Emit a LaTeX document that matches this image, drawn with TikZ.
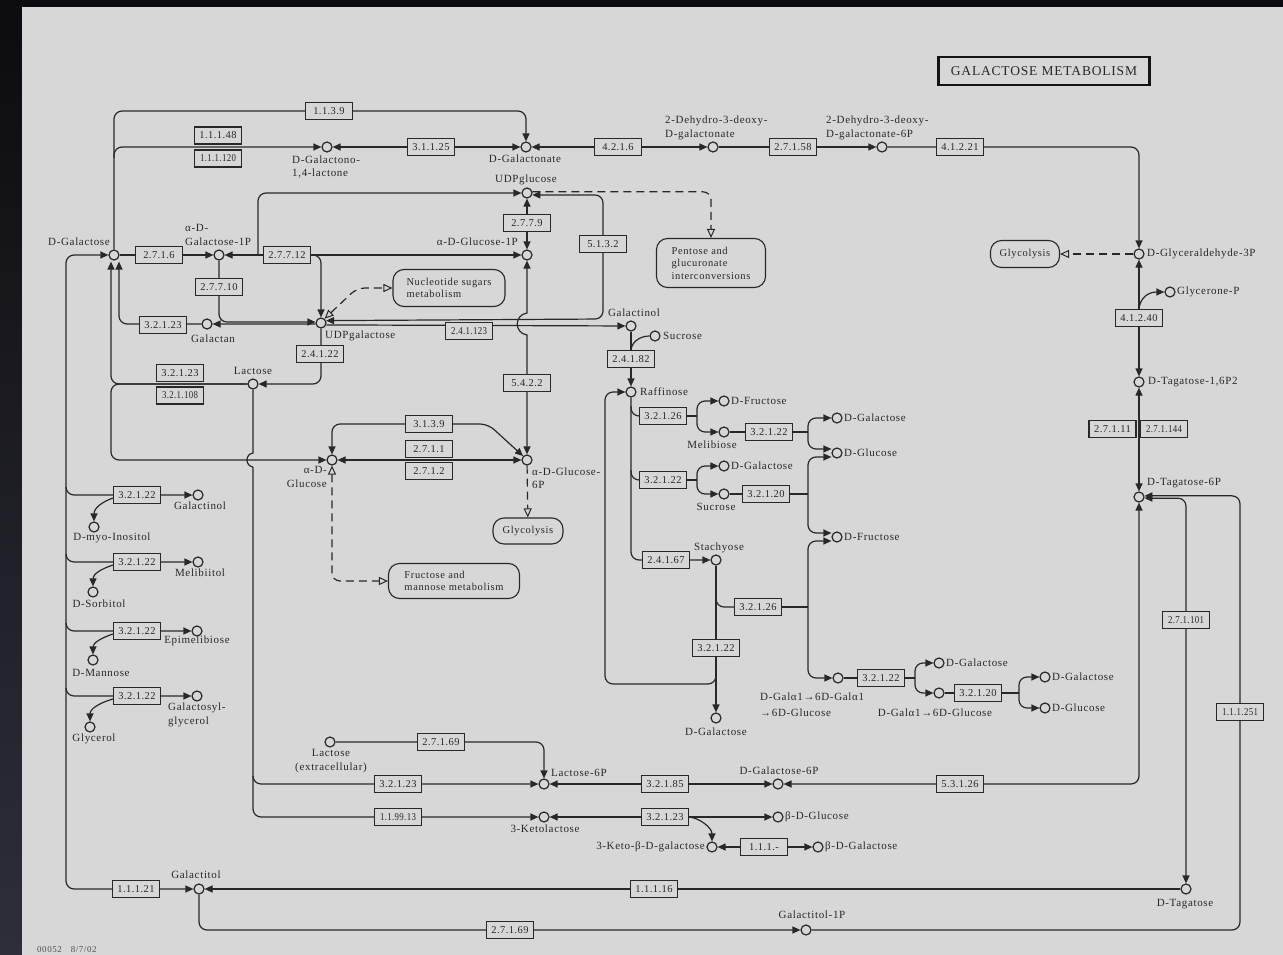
\documentclass[tikz,border=0pt]{standalone}
\usepackage{fontspec}
\usepackage{graphicx}
\setmainfont{Liberation Serif}
\newfontfamily\lblfont{Liberation Serif}[LetterSpace=6]
\newfontfamily\ecfont{Liberation Serif}[LetterSpace=4]
\usetikzlibrary{arrows.meta,calc}
\pgfdeclarelayer{panel}
\pgfdeclarelayer{wires}
\pgfsetlayers{panel,wires,main}
\definecolor{paper}{RGB}{215,215,215}
\definecolor{ink}{RGB}{40,40,40}
\definecolor{frameA}{RGB}{12,12,14}
\definecolor{frameB}{RGB}{46,46,58}
\newcommand{\nar}[1]{\scalebox{0.84}[1]{#1}}
\tikzset{
  cpd/.style={circle, draw=ink, line width=1.2pt, fill=paper, minimum size=10pt, inner sep=0pt},
  lbl/.style={font=\lblfont\fontsize{11}{13.5}\selectfont, text=ink, inner sep=0pt},
  ec/.style={draw=ink, line width=1.2pt, fill=paper, minimum width=47pt, minimum height=17pt,
             inner sep=1pt, font=\ecfont\fontsize{10.5}{11}\selectfont, text=ink},
  pmap/.style={draw=ink, line width=1.1pt, fill=paper, rounded corners=11pt, align=left,
               font=\lblfont\fontsize{10.5}{12.5}\selectfont, text=ink, inner sep=0pt},
  wire/.style={draw=ink, line width=1.2pt, rounded corners=8pt},
  link/.style={draw=ink, line width=1.2pt, dash pattern=on 8pt off 5pt, rounded corners=8pt},
  hollow/.tip={Triangle[length=9pt,width=8pt,fill=paper,line width=1pt]},
}
\begin{document}
\begin{tikzpicture}[x=1pt, y=-1pt, >={Triangle[length=8pt,width=7pt]}]
\useasboundingbox (0,0) rectangle (1283,955);

% ---------- compounds ----------
\node[cpd] (galA) at (114,255) {};
\node[cpd] (gal1p) at (219,255) {};
\node[cpd] (lacton) at (327,147) {};
\node[cpd] (galnate) at (526,147) {};
\node[cpd] (dhdg) at (713,147) {};
\node[cpd] (dhdgp) at (882,147) {};
\node[cpd] (gap) at (1139,254) {};
\node[cpd] (glyp) at (1170,292) {};
\node[cpd] (tagbp) at (1139,382) {};
\node[cpd] (tagp) at (1139,497) {};
\node[cpd] (tag) at (1186,889) {};
\node[cpd] (galtol) at (199,889) {};
\node[cpd] (galtolp) at (806,930) {};
\node[cpd] (udpglc) at (527,193) {};
\node[cpd] (glc1p) at (527,255) {};
\node[cpd] (udpgal) at (321,323) {};
\node[cpd] (galactan) at (207,324) {};
\node[cpd] (lactose) at (253,384) {};
\node[cpd] (galinol) at (631,326) {};
\node[cpd] (sucA) at (655,336) {};
\node[cpd] (raff) at (631,392) {};
\node[cpd] (glc6p) at (527,460) {};
\node[cpd] (glc) at (332,460) {};
\node[cpd] (fruA) at (724,401) {};
\node[cpd] (melib) at (724,432) {};
\node[cpd] (galB) at (837,418) {};
\node[cpd] (glcB) at (837,453) {};
\node[cpd] (galC) at (724,466) {};
\node[cpd] (sucB) at (724,494) {};
\node[cpd] (fruB) at (837,537) {};
\node[cpd] (stach) at (716,560) {};
\node[cpd] (galD) at (716,718) {};
\node[cpd] (mtri) at (838,678) {};
\node[cpd] (galE) at (939,663) {};
\node[cpd] (mbio) at (939,693) {};
\node[cpd] (galF) at (1045,677) {};
\node[cpd] (glcF) at (1045,708) {};
\node[cpd] (galinolL) at (198,495) {};
\node[cpd] (inos) at (94,527) {};
\node[cpd] (melibitol) at (198,562) {};
\node[cpd] (sorb) at (93,592) {};
\node[cpd] (epimel) at (197,631) {};
\node[cpd] (mannose) at (93,660) {};
\node[cpd] (galgly) at (197,696) {};
\node[cpd] (glycerol) at (90,727) {};
\node[cpd] (lacex) at (330,742) {};
\node[cpd] (lac6p) at (544,784) {};
\node[cpd] (gal6p) at (778,784) {};
\node[cpd] (ketolac) at (544,817) {};
\node[cpd] (bglc) at (778,817) {};
\node[cpd] (ketogal) at (712,847) {};
\node[cpd] (bgal) at (818,847) {};

% ---------- compound names ----------
\node[lbl] (t-galA) at (79,242) {D-Galactose};
\node[lbl, anchor=west, align=left] (t-gal1p) at (185,235) {α-D-\\Galactose-1P};
\node[lbl, anchor=west, align=left] (t-lacton) at (292,167) {D-Galactono-\\1,4-lactone};
\node[lbl] (t-galnate) at (525,159) {D-Galactonate};
\node[lbl, anchor=west, align=left] (t-dhdg) at (665,128) {2-Dehydro-3-deoxy-\\D-galactonate};
\node[lbl, anchor=west, align=left] (t-dhdgp) at (826,128) {2-Dehydro-3-deoxy-\\D-galactonate-6P};
\node[lbl, anchor=west] (t-gap) at (1147,254) {D-Glyceraldehyde-3P};
\node[lbl, anchor=west] (t-glyp) at (1177,292) {Glycerone-P};
\node[lbl, anchor=west] (t-tagbp) at (1148,382) {D-Tagatose-1,6P2};
\node[lbl, anchor=west] (t-tagp) at (1147,483) {D-Tagatose-6P};
\node[lbl] (t-tag) at (1185,904) {D-Tagatose};
\node[lbl] (t-galtol) at (196,875) {Galactitol};
\node[lbl] (t-galtolp) at (812,915) {Galactitol-1P};
\node[lbl] (t-udpglc) at (526,180) {UDPglucose};
\node[lbl, anchor=east] (t-glc1p) at (518,242) {α-D-Glucose-1P};
\node[lbl, anchor=west] (t-udpgal) at (325,336) {UDPgalactose};
\node[lbl] (t-galactan) at (213,339) {Galactan};
\node[lbl] (t-lactose) at (253,371) {Lactose};
\node[lbl] (t-galinol) at (634,313) {Galactinol};
\node[lbl, anchor=west] (t-sucA) at (663,336) {Sucrose};
\node[lbl, anchor=west] (t-raff) at (640,392) {Raffinose};
\node[lbl, anchor=west, align=left] (t-glc6p) at (532,478) {α-D-Glucose-\\6P};
\node[lbl, anchor=east, align=right] (t-glc) at (327,477) {α-D-\\Glucose};
\node[lbl, anchor=west] (t-fruA) at (731,401) {D-Fructose};
\node[lbl] (t-melib) at (712,445) {Melibiose};
\node[lbl, anchor=west] (t-galB) at (844,418) {D-Galactose};
\node[lbl, anchor=west] (t-glcB) at (844,453) {D-Glucose};
\node[lbl, anchor=west] (t-galC) at (731,466) {D-Galactose};
\node[lbl] (t-sucB) at (716,507) {Sucrose};
\node[lbl, anchor=west] (t-fruB) at (844,537) {D-Fructose};
\node[lbl] (t-stach) at (719,548) {Stachyose};
\node[lbl] (t-galD) at (716,732) {D-Galactose};
\node[lbl, anchor=west, align=left] (t-mtri) at (760,705) {D-Galα1→6D-Galα1\\[2.5pt]→6D-Glucose};
\node[lbl, anchor=west] (t-galE) at (946,663) {D-Galactose};
\node[lbl] (t-mbio) at (935,713) {D-Galα1→6D-Glucose};
\node[lbl, anchor=west] (t-galF) at (1052,677) {D-Galactose};
\node[lbl, anchor=west] (t-glcF) at (1052,708) {D-Glucose};
\node[lbl] (t-galinolL) at (200,506) {Galactinol};
\node[lbl] (t-inos) at (112,538) {D-myo-Inositol};
\node[lbl] (t-melibitol) at (200,573) {Melibiitol};
\node[lbl] (t-sorb) at (99,604) {D-Sorbitol};
\node[lbl] (t-epimel) at (197,641) {Epimelibiose};
\node[lbl] (t-mannose) at (101,673) {D-Mannose};
\node[lbl, anchor=west, align=left] (t-galgly) at (168,715) {Galactosyl-\\glycerol};
\node[lbl] (t-glycerol) at (94,739) {Glycerol};
\node[lbl, align=center] (t-lacex) at (331,761) {Lactose\\(extracellular)};
\node[lbl, anchor=west] (t-lac6p) at (551,773) {Lactose-6P};
\node[lbl] (t-gal6p) at (779,771) {D-Galactose-6P};
\node[lbl] (t-ketolac) at (545,829) {3-Ketolactose};
\node[lbl, anchor=west] (t-bglc) at (785,817) {β-D-Glucose};
\node[lbl, anchor=east] (t-ketogal) at (705,847) {3-Keto-β-D-galactose};
\node[lbl, anchor=west] (t-bgal) at (825,847) {β-D-Galactose};

% ---------- enzymes ----------
\node[ec] (e1139a) at (329,111) {1.1.3.9};
\node[ec] (e1148) at (218,135.5) {1.1.1.48};
\node[ec] (e11120) at (218,158.5) {\nar{1.1.1.120}};
\node[ec] (e31125) at (431,147) {3.1.1.25};
\node[ec] (e4216) at (618,147) {4.2.1.6};
\node[ec] (e27158) at (793,147) {2.7.1.58};
\node[ec] (e41221) at (960,147) {4.1.2.21};
\node[ec] (e2716) at (159,255) {2.7.1.6};
\node[ec] (e27712) at (287,255) {2.7.7.12};
\node[ec] (e27710) at (219,287) {2.7.7.10};
\node[ec] (e2779) at (527,223) {2.7.7.9};
\node[ec] (e5132) at (603,244) {5.1.3.2};
\node[ec] (e32123a) at (163,325) {3.2.1.23};
\node[ec] (e241123) at (469,331) {\nar{2.4.1.123}};
\node[ec] (e24122) at (320,354) {2.4.1.22};
\node[ec] (e32123b) at (180,373) {3.2.1.23};
\node[ec] (e321108) at (180,395.5) {\nar{3.2.1.108}};
\node[ec] (e24182) at (631,359) {2.4.1.82};
\node[ec] (e5422) at (527,383) {5.4.2.2};
\node[ec] (e3139) at (429,424) {3.1.3.9};
\node[ec] (e2711) at (429,449) {2.7.1.1};
\node[ec] (e2712) at (429,471) {2.7.1.2};
\node[ec] (e32126a) at (663,416) {3.2.1.26};
\node[ec] (e32122a) at (769,432) {3.2.1.22};
\node[ec] (e32122b) at (663,480) {3.2.1.22};
\node[ec] (e32120a) at (766,494) {3.2.1.20};
\node[ec] (e24167) at (666,560) {2.4.1.67};
\node[ec] (e32126b) at (758,607) {3.2.1.26};
\node[ec] (e32122c) at (716,648) {3.2.1.22};
\node[ec] (e32122d) at (881,678) {3.2.1.22};
\node[ec] (e32120b) at (978,693) {3.2.1.20};
\node[ec] (e41240) at (1139,318) {4.1.2.40};
\node[ec] (e27111) at (1112.5,429) {2.7.1.11};
\node[ec] (e271144) at (1164,429) {\nar{2.7.1.144}};
\node[ec] (e271101) at (1186,620) {\nar{2.7.1.101}};
\node[ec] (e111251) at (1240,712) {\nar{1.1.1.251}};
\node[ec] (e53126) at (960,784) {5.3.1.26};
\node[ec] (e32185) at (665,784) {3.2.1.85};
\node[ec] (e32123c) at (398,784) {3.2.1.23};
\node[ec] (e27169a) at (441,742) {2.7.1.69};
\node[ec] (e119913) at (398,817) {\nar{1.1.99.13}};
\node[ec] (e32123d) at (665,817) {3.2.1.23};
\node[ec] (e111x) at (764,847) {1.1.1.-};
\node[ec] (e11116) at (654,889) {1.1.1.16};
\node[ec] (e11121) at (136,889) {1.1.1.21};
\node[ec] (e27169b) at (510,930) {2.7.1.69};
\node[ec] (eL1) at (137,495) {3.2.1.22};
\node[ec] (eL2) at (137,562) {3.2.1.22};
\node[ec] (eL3) at (137,631) {3.2.1.22};
\node[ec] (eL4) at (137,696) {3.2.1.22};

% ---------- linked pathway maps ----------
\node[pmap, minimum width=69pt, minimum height=27pt, align=center] (glyA) at (1025,254) {Glycolysis};
\node[pmap, minimum width=70pt, minimum height=26pt, align=center] (glyB) at (528,531) {Glycolysis};
\node[pmap, minimum width=109pt, minimum height=49pt] (pent) at (711,263) {Pentose and\\glucuronate\\interconversions};
\node[pmap, minimum width=112pt, minimum height=37pt] (nucl) at (449,288) {Nucleotide sugars\\metabolism};
\node[pmap, minimum width=131pt, minimum height=35pt] (fruc) at (454,581) {Fructose and\\mannose metabolism};

% ---------- title and map number ----------
\node[draw={rgb,255:red,20;green,20;blue,20}, line width=2.6pt, fill=paper, minimum width=211pt, minimum height=28pt,
      font=\lblfont\fontsize{13.5}{14}\selectfont, text=ink] (title) at (1044,71) {GALACTOSE METABOLISM};
\node[lbl, anchor=west, font=\lblfont\fontsize{9}{10}\selectfont, text={rgb,255:red,80;green,80;blue,80}] (foot) at (37,950) {00052\hspace{9pt}8/7/02};

% ---------- background ----------
\begin{pgfonlayer}{panel}
  \fill[frameA] (0,0) rectangle (1283,955);
  \shade[top color=frameA, bottom color=frameB] (0,0) rectangle (22,955);
  \fill[paper] (22,7) rectangle (1283,955);
\end{pgfonlayer}

% ---------- reactions ----------
\begin{pgfonlayer}{wires}
  % oxidative branch of D-galactose
  \draw[wire,->] (galA) |- (e1139a.center) -| (galnate);
  \coordinate (jLac) at (114,158);
  \draw[wire,->] (jLac) |- (lacton);
  \draw[wire,<->] (lacton) -- (galnate);
  \draw[wire,<->] (galnate) -- (dhdg);
  \draw[wire,->] (dhdg) -- (dhdgp);
  \draw[wire,->] (dhdgp) -| (gap);
  \draw[link,-{hollow}] (gap) -- (glyA);
  \draw[wire,<->] (gap) -- (tagbp);
  \coordinate (jGlyP) at (1139,309);
  \draw[wire,->] (jGlyP) .. controls (1140,298) and (1148,292) .. (glyp);
  \draw[wire,<->] (tagbp) -- (tagp);
  % tagatose / galactitol
  \coordinate (cR) at (1240,930);
  \draw[wire,->] (galtolp) -- (cR) |- (tagp.12);
  \draw[wire,<->] (tagp.-12) -| (tag);
  \draw[wire,<->] (gal6p) -| (tagp);
  \draw[wire,<->] (lac6p) -- (gal6p);
  \draw[wire,->] (galtol) |- (galtolp);
  \draw[wire,<-] (galtol) -- (tag);
  \coordinate (cL) at (66,889);
  \draw[wire,<->] (galA) -| (cL) -- (galtol);
  % alpha-galactosidase side branches
  \coordinate (bL1) at (66,487);
  \draw[wire,->] (bL1) |- (galinolL);
  \draw[wire,->] ($(eL1.west)+(0,3)$) .. controls (102,502) and (94,508) .. (inos);
  \coordinate (bL2) at (66,554);
  \draw[wire,->] (bL2) |- (melibitol);
  \draw[wire,->] ($(eL2.west)+(0,3)$) .. controls (101,569) and (93,574) .. (sorb);
  \coordinate (bL3) at (66,623);
  \draw[wire,->] (bL3) |- (epimel);
  \draw[wire,->] ($(eL3.west)+(0,3)$) .. controls (101,638) and (93,643) .. (mannose);
  \coordinate (bL4) at (66,688);
  \draw[wire,->] (bL4) |- (galgly);
  \draw[wire,->] ($(eL4.west)+(0,3)$) .. controls (99,703) and (90,709) .. (glycerol);
  % Leloir pathway
  \draw[wire,->] (galA) -- (gal1p);
  \draw[wire,<->] (gal1p) -- (glc1p);
  \coordinate (jUp) at (258,255);
  \draw[wire,->] (jUp) |- (udpglc);
  \coordinate (jDn) at (311,255);
  \draw[wire,->] (jDn) -| (udpgal);
  \draw[wire,->] (gal1p) |- (udpgal.170);
  \draw[wire,<->] (glc1p) -- (udpglc);
  \coordinate (jEpi) at (603,319);
  \draw[wire,<->] (udpglc.-20) -| (jEpi) -- (udpgal.25);
  \coordinate (jNuc) at (357,288);
  \draw[link,{hollow}-{hollow}] (udpgal.50) -- (jNuc) -- (nucl.west);
  \draw[link,-{hollow}] (udpglc.12) -| (pent.north);
  \draw[wire,<->, sharp corners] (glc1p) -- (527,313) .. controls (514,315) and (514,333) .. (527,335) -- (glc6p);
  % galactan and lactose
  \draw[wire,->] (udpgal.190) -- (galactan);
  \draw[wire,->] (galactan) -| ($(galA.south)+(5,1)$);
  \draw[wire,->] (lactose) -| ($(galA.south)+(-3,1)$);
  \coordinate (cGlcL) at (111,460);
  \draw[wire,->] (lactose) -| (cGlcL) -- (glc);
  \draw[wire,->] (udpgal) |- (lactose);
  \coordinate (cHop) at (253,467);
  \draw[wire, sharp corners] (lactose) -- (253,453) .. controls (245,454) and (245,466) .. (cHop);
  \draw[wire,->] (cHop) |- (lac6p);
  \coordinate (cKeto) at (253,776);
  \draw[wire,->] (cKeto) |- (ketolac);
  \draw[wire,->] (lacex) -| (lac6p);
  \draw[wire,<->] (ketolac) -- (bglc);
  \draw[wire,->] (e32123d.east) .. controls (700,818) and (712,828) .. (ketogal);
  \draw[wire,<->] (ketogal) -- (bgal);
  % glucose
  \draw[wire,<->] (glc) -- (glc6p);
  \draw[wire,<->] (glc) |- (e3139.center) -- (488,424) -- (glc6p.135);
  \draw[link,-{hollow}] (glc6p) -- (glyB);
  \draw[link,{hollow}-{hollow}] (glc) |- (fruc.west);
  % raffinose family
  \draw[wire,->] (udpgal.-20) -- (galinol);
  \draw[wire,->] (galinol) -- (raff);
  \draw[wire] (sucA) .. controls (641,336) and (632,341) .. (e24182.north);
  \draw[wire,->] (raff) |- (stach);
  \coordinate (tR1) at (631,406);
  \draw[wire] (tR1) |- (e32126a.west);
  \coordinate (tR2) at (631,470);
  \draw[wire] (tR2) |- (e32122b.west);
  \coordinate (fA) at (697,416);
  \draw[wire] (e32126a.east) -- (fA);
  \draw[wire,->] (fA) |- (fruA);
  \draw[wire,->] (fA) |- (melib);
  \coordinate (fB) at (808,432);
  \draw[wire] (melib) -- (fB);
  \draw[wire,->] (fB) |- (galB);
  \draw[wire,->] (fB) |- ($(glcB.west)+(0,-4)$);
  \coordinate (fC) at (697,480);
  \draw[wire] (e32122b.east) -- (fC);
  \draw[wire,->] (fC) |- (galC);
  \draw[wire,->] (fC) |- (sucB);
  \coordinate (fD) at (808,494);
  \draw[wire] (sucB) -- (fD);
  \draw[wire,->] (fD) |- ($(glcB.west)+(0,4)$);
  \draw[wire,->] (fD) |- ($(fruB.west)+(0,-4)$);
  \coordinate (tS1) at (716,598);
  \draw[wire] (tS1) |- (e32126b.west);
  \coordinate (fE) at (808,607);
  \draw[wire] (e32126b.east) -- (fE);
  \draw[wire,->] (fE) |- ($(fruB.west)+(0,4)$);
  \draw[wire,->] (fE) |- (mtri);
  \draw[wire,->] (stach) -- (galD);
  \coordinate (tS2) at (716,666);
  \draw[wire,->] (tS2) |- (605,684) |- (raff);
  \coordinate (fF) at (915,678);
  \draw[wire] (mtri) -- (fF);
  \draw[wire,->] (fF) |- (galE);
  \draw[wire,->] (fF) |- (mbio);
  \coordinate (fG) at (1019,693);
  \draw[wire] (mbio) -- (fG);
  \draw[wire,->] (fG) |- (galF);
  \draw[wire,->] (fG) |- (glcF);
\end{pgfonlayer}
\end{tikzpicture}
\end{document}
